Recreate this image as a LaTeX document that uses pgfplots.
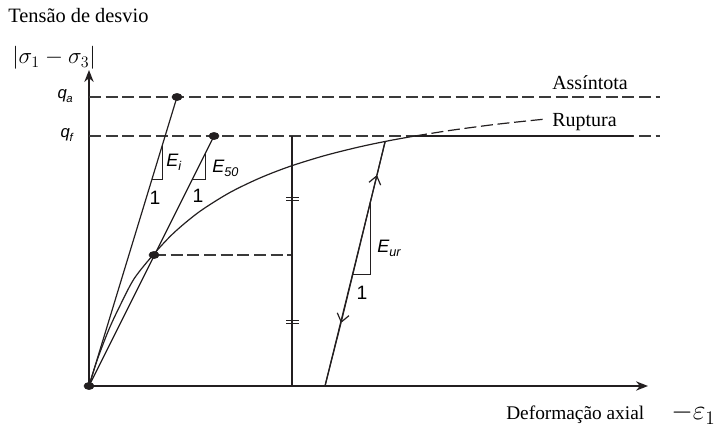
\documentclass[border=0pt]{standalone}
\usepackage{pgfplots}
\pgfplotsset{compat=1.18}
\usepackage{fontspec}
\setmainfont{Liberation Serif}
\newfontfamily\arial{Liberation Sans}
\usetikzlibrary{arrows.meta}
\definecolor{ink}{HTML}{231F20}
\definecolor{dashgray}{HTML}{3A3A3A}

\begin{document}
\begin{tikzpicture}[
  ln/.style={color=ink, line width=0.9pt, mark=none, solid},
  thin ln/.style={color=ink, line width=0.7pt, mark=none, solid},
  dsh/.style={color=dashgray, line width=0.9pt, mark=none, dash pattern=on 9pt off 3.5pt},
]
\begin{axis}[
  x=0.75pt, y=0.75pt,
  xmin=0, xmax=559, ymin=0, ymax=316,
  axis lines=left,
  axis line style={line width=1.1pt, color=ink, -{Stealth[length=9pt,width=7pt]}},
  xtick=\empty, ytick=\empty,
  clip=false,
]
% reference levels: asymptote q_a and failure q_f
\addplot[dsh] coordinates {(0,289) (571,289)};
\addplot[dsh] coordinates {(0,250) (571,250)};
% half of q_f
\addplot[dsh] coordinates {(65,131) (203,131)};

% hyperbolic stress-strain curve
\addplot[ln, smooth] coordinates {
  (0,0) (5,16.4) (10,31.1) (20,56.8) (30,78.3) (45,107.1) (65,132.1)
  (85,153.3) (110,174.0) (140,193.0) (170,207.6) (200,219.3)
  (235,230.2) (270,239.0) (300,245.3) (326,250.0)
};
% continuation of the hyperbola beyond failure
\addplot[dsh, color=ink, smooth] coordinates {
  (326,250.0) (360,255.4) (400,260.8) (430,264.2) (458,267.1)
};
% plateau after failure
\addplot[ln] coordinates {(326,250) (544,250)};

% initial and secant moduli
\addplot[ln] coordinates {(0,0) (88,289)};
\addplot[ln] coordinates {(0,0) (125,250)};
\addplot[thin ln] coordinates {(63,207) (73,207) (73,240)};
\addplot[thin ln] coordinates {(103.5,207) (116,207) (116,232)};

% vertical marker with break symbols
\addplot[ln] coordinates {(203,0) (203,250)};
\addplot[thin ln] coordinates {(197,188.7) (210,188.7)};
\addplot[thin ln] coordinates {(197,185.3) (210,185.3)};
\addplot[thin ln] coordinates {(197,66) (210,66)};
\addplot[thin ln] coordinates {(197,62.6) (210,62.6)};

% unloading / reloading branch
\addplot[ln, -{Straight Barb[length=6pt,width=9pt]}] coordinates {(296,244) (252,63)};
\addplot[ln] coordinates {(252,63) (236,0)};
\addplot[ln, -{Straight Barb[length=6pt,width=9pt]}] coordinates {(236,0) (288,211)};
\addplot[ln] coordinates {(288,211) (296,244)};
\addplot[thin ln] coordinates {(263.5,112) (281,112) (281,183)};

% points
\addplot[only marks, mark=*, mark size=2.7pt, mark options={xscale=1.4, fill=ink, draw=ink, solid}]
  coordinates {(0,0) (65,131) (88,289) (125,250)};

% labels
\node[anchor=east, inner sep=0pt] at (axis cs:-16,290) {\fontsize{12.5}{14}\arial\itshape q\kern-0.3pt\raisebox{-2.5pt}{\fontsize{8.5}{9}\selectfont a}};
\node[anchor=east, inner sep=0pt] at (axis cs:-16,251) {\fontsize{12.5}{14}\arial\itshape q\kern-0.3pt\raisebox{-2.5pt}{\fontsize{8.5}{9}\selectfont f}};
\node[anchor=west, inner sep=0pt] at (axis cs:77,224) {\fontsize{13.5}{15}\arial\itshape E\raisebox{-3pt}{\fontsize{9.5}{10}\selectfont i}};
\node[inner sep=0pt] at (axis cs:66,188) {\fontsize{14.5}{16}\arial 1};
\node[anchor=west, inner sep=0pt] at (axis cs:123,218) {\fontsize{13.5}{15}\arial\itshape E\raisebox{-3pt}{\fontsize{9.5}{10}\selectfont 50}};
\node[inner sep=0pt] at (axis cs:109,190) {\fontsize{14.5}{16}\arial 1};
\node[anchor=west, inner sep=0pt] at (axis cs:288,138) {\fontsize{13.5}{15}\arial\itshape E\raisebox{-3pt}{\fontsize{9.5}{10}\selectfont ur}};
\node[inner sep=0pt] at (axis cs:273,93) {\fontsize{14.5}{16}\arial 1};

\node[anchor=west, inner sep=0pt] at (axis cs:463,303) {\fontsize{15}{17}\selectfont Assíntota};
\node[anchor=west, inner sep=0pt] at (axis cs:463,264) {\fontsize{15}{17}\selectfont Ruptura};
\node[anchor=west, inner sep=0pt] at (axis cs:-81,370) {\fontsize{15.3}{17}\selectfont Tensão de desvio};
\node[anchor=west, inner sep=0pt] at (axis cs:-77,328) {\fontsize{17.5}{20}\selectfont $|\sigma_1 - \sigma_3|$};
\node[anchor=west, inner sep=0pt] at (axis cs:417,-29) {\fontsize{14.5}{17}\selectfont Deformação axial};
\node[anchor=west, inner sep=0pt] at (axis cs:582,-28) {\fontsize{21.5}{23}\selectfont $-\varepsilon_1$};

% page extent
\path (axis cs:-89,-48) rectangle (axis cs:634,386);
\end{axis}
\end{tikzpicture}
\end{document}
